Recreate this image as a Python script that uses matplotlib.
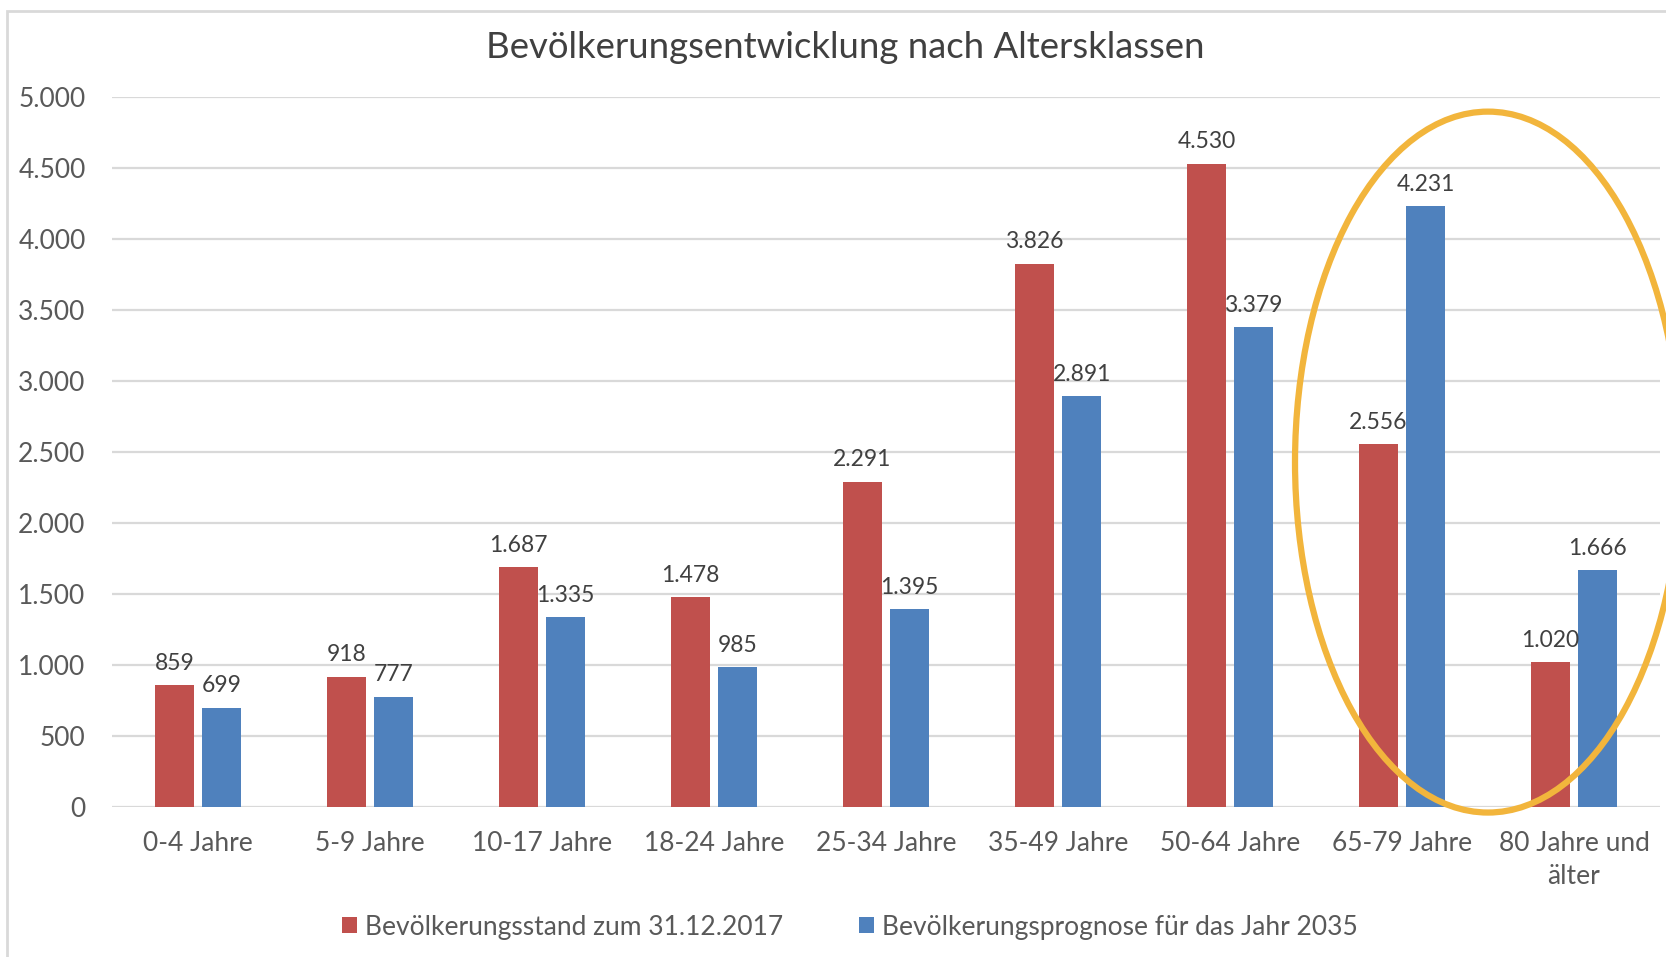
"""
Bevölkerungsentwicklung nach Altersklassen - grouped bar chart (Excel style)
"""
import matplotlib
matplotlib.use("Agg")
import matplotlib.pyplot as plt
from matplotlib.patches import Ellipse, Rectangle

# ── data ────────────────────────────────────────────────────────────────────
categories = ["0-4 Jahre", "5-9 Jahre", "10-17 Jahre", "18-24 Jahre",
              "25-34 Jahre", "35-49 Jahre", "50-64 Jahre", "65-79 Jahre",
              "80 Jahre und\nälter"]
stand_2017 = [859, 918, 1687, 1478, 2291, 3826, 4530, 2556, 1020]
prognose_2035 = [699, 777, 1335, 985, 1395, 2891, 3379, 4231, 1666]
series_names = ["Bevölkerungsstand zum 31.12.2017",
                "Bevölkerungsprognose für das Jahr 2035"]
yticks = [0, 500, 1000, 1500, 2000, 2500, 3000, 3500, 4000, 4500, 5000]

RED = "#C0504D"
BLUE = "#4F81BD"
GRID = "#D9D9D9"
AXIS_TXT = "#595959"
LABEL_TXT = "#404040"
HIGHLIGHT = "#F2B53C"

plt.rcParams["font.family"] = ["Lato", "DejaVu Sans"]


def de_num(v):
    return f"{v:,}".replace(",", ".")


W, H = 1666, 957
fig = plt.figure(figsize=(W / 100, H / 100), dpi=100)
fig.patch.set_facecolor("white")

# chart area frame (cropped at right/bottom in the original)
fig.patches.append(Rectangle((7 / W, -0.1), 1.2, 1 - 11 / H + 0.1,
                             transform=fig.transFigure, fill=False,
                             edgecolor=GRID, linewidth=2))

ax = fig.add_axes([112 / W, 150 / H, 1548 / W, 710 / H])
x = list(range(len(categories)))
bw = 0.227
off = 0.137
bars_a = ax.bar([i - off for i in x], stand_2017, bw, color=RED, zorder=3,
                label=series_names[0])
bars_b = ax.bar([i + off for i in x], prognose_2035, bw, color=BLUE, zorder=3,
                label=series_names[1])

for bars, vals in ((bars_a, stand_2017), (bars_b, prognose_2035)):
    for b, v in zip(bars, vals):
        ax.annotate(de_num(v), (b.get_x() + b.get_width() / 2, v),
                    xytext=(0, 11), textcoords="offset points",
                    ha="center", va="baseline", fontsize=16.5,
                    color=LABEL_TXT, zorder=4)

ax.set_xlim(-0.5, len(categories) - 0.5)
ax.set_ylim(0, 5000)
ax.set_yticks(yticks)
ax.set_yticklabels([de_num(t) for t in yticks])
ax.set_xticks(x)
ax.set_xticklabels(categories, linespacing=1.4)
ax.tick_params(axis="both", length=0, labelsize=19, labelcolor=AXIS_TXT)
ax.tick_params(axis="y", pad=19)
ax.tick_params(axis="x", pad=17)
ax.grid(axis="y", color=GRID, linewidth=1.6, zorder=0)
ax.set_axisbelow(True)
for s in ax.spines.values():
    s.set_visible(False)

# highlight ellipse around the older age groups
ax.add_patch(Ellipse((7.5, 2429), width=2.244, height=4936, fill=False,
                     edgecolor=HIGHLIGHT, linewidth=4.5, clip_on=False,
                     zorder=5))

fig.text(845 / W, 1 - 47 / H, "Bevölkerungsentwicklung nach Altersklassen",
         ha="center", va="center", fontsize=26.3, color=LABEL_TXT)

fig.legend(loc="center", bbox_to_anchor=(850 / W, 1 - 927 / H), ncol=2,
           frameon=False, fontsize=19, labelcolor=AXIS_TXT,
           handlelength=0.55, handleheight=0.55, handletextpad=0.3,
           columnspacing=2.9)

fig.savefig("out.png", dpi=100)
